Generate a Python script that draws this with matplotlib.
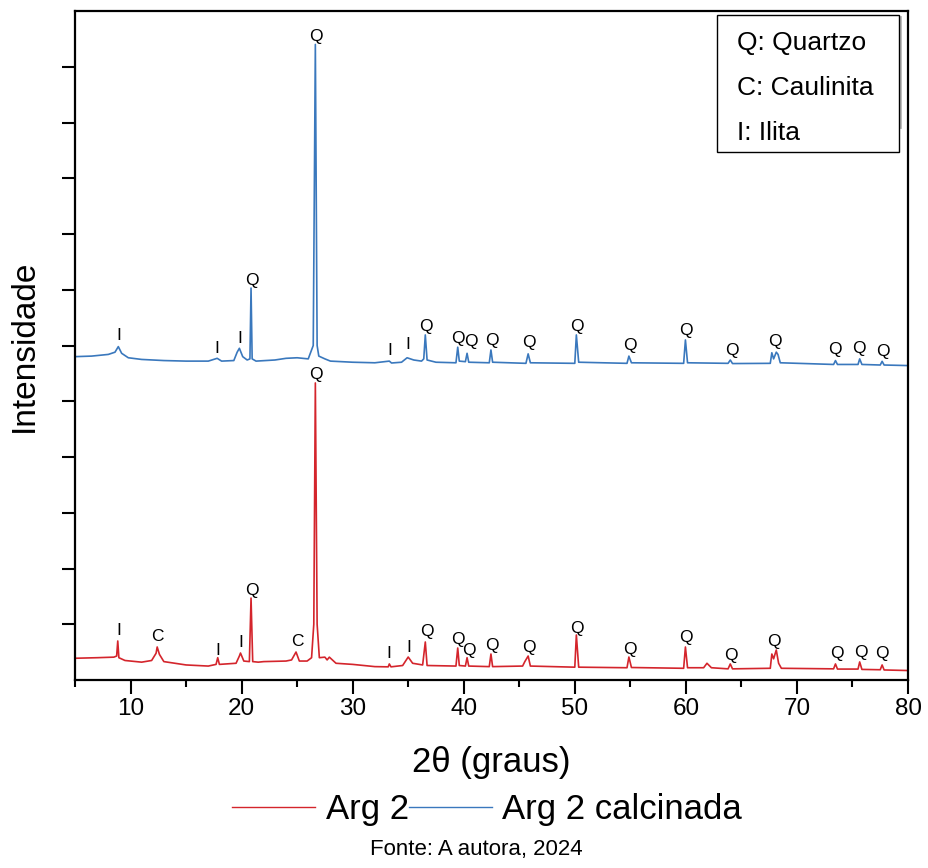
import matplotlib
matplotlib.use("Agg")
import matplotlib.pyplot as plt
from matplotlib.lines import Line2D
from matplotlib.patches import Rectangle

plt.rcParams['font.family'] = ['Liberation Sans', 'DejaVu Sans']

# ---- data (2theta in degrees, intensity in arbitrary units, as displayed) ----
arg2_tt = [5.0, 7.0, 8.5, 8.75, 8.85, 8.95, 9.5, 11.0, 11.9, 12.3, 12.4, 12.6, 13.0, 15.0, 17.0,
           17.7, 17.85, 18.0, 19.5, 19.8, 19.9, 20.2, 20.7, 20.85, 21.0, 21.5, 22.0, 24.0, 24.5,
           24.9, 25.2, 25.9, 26.3, 26.5, 26.64, 26.8, 27.0, 27.5, 27.7, 27.9, 28.5, 30.0, 32.0,
           33.2, 33.3, 33.45, 34.5, 35.0, 35.4, 36.3, 36.54, 36.7, 39.3, 39.46, 39.6, 40.15, 40.3,
           40.45, 42.3, 42.45, 42.6, 45.3, 45.5, 45.8, 46.0, 50.0, 50.14, 50.35, 54.7, 54.87, 55.1,
           59.8, 59.96, 60.15, 61.6, 61.9, 62.3, 63.8, 64.0, 64.2, 67.6, 67.74, 67.9, 68.14, 68.35,
           68.6, 73.3, 73.47, 73.65, 75.5, 75.65, 75.85, 77.5, 77.67, 77.85, 80.0]
arg2_int = [195, 200, 205, 215, 350, 200, 175, 160, 175, 240, 296, 230, 165, 135, 125,
            140, 200, 140, 150, 215, 242, 170, 165, 735, 165, 160, 165, 170, 180,
            251, 170, 170, 200, 500, 2664, 500, 200, 205, 180, 205, 150, 140, 120,
            118, 144, 118, 130, 206, 150, 135, 341, 130, 125, 287, 130, 125, 200,
            125, 120, 233, 120, 125, 165, 215, 125, 115, 404, 115, 110, 206, 112,
            105, 296, 110, 110, 150, 110, 100, 144, 100, 105, 233, 190, 269, 150,
            105, 100, 144, 98, 98, 162, 95, 92, 135, 90, 85]

calc_tt = [5.0, 6.5, 8.0, 8.6, 8.9, 9.2, 9.8, 11.0, 13.0, 15.0, 17.0, 17.8, 18.2, 19.3, 19.6,
           19.8, 20.1, 20.5, 20.75, 20.85, 20.95, 21.3, 23.0, 24.0, 25.0, 26.0, 26.45, 26.64,
           26.8, 26.95, 27.5, 28.0, 30.0, 32.0, 33.3, 33.5, 34.4, 34.9, 35.5, 36.2, 36.4, 36.54,
           36.7, 37.5, 39.3, 39.46, 39.6, 40.15, 40.3, 40.45, 42.3, 42.45, 42.6, 45.6, 45.8, 46.0,
           50.0, 50.14, 50.35, 54.7, 54.87, 55.1, 59.8, 59.96, 60.15, 63.8, 64.0, 64.2, 67.6,
           67.74, 67.9, 68.14, 68.3, 68.5, 73.3, 73.47, 73.65, 75.5, 75.65, 75.85, 77.5, 77.67,
           77.85, 80.0]
calc_int = [2900, 2905, 2920, 2940, 2990, 2930, 2890, 2875, 2865, 2860, 2860, 2885, 2860, 2865, 2940,
            2975, 2900, 2870, 2880, 3515, 2880, 2860, 2870, 2885, 2890, 2880, 3000, 5700,
            3000, 2905, 2880, 2860, 2850, 2845, 2860, 2843, 2850, 2890, 2870, 2860, 2880, 3095,
            2870, 2850, 2845, 2985, 2860, 2855, 2930, 2850, 2845, 2960, 2850, 2840, 2925, 2845,
            2840, 3095, 2850, 2840, 2905, 2845, 2840, 3050, 2845, 2840, 2870, 2838, 2840,
            2935, 2880, 2940, 2920, 2845, 2830, 2865, 2830, 2830, 2880, 2830, 2825, 2858,
            2825, 2820]

# phase labels: text, 2theta, intensity
arg2_lbl = ['I', 'C', 'I', 'I', 'Q', 'C', 'Q', 'I', 'I', 'Q', 'Q', 'Q', 'Q', 'Q', 'Q', 'Q',
            'Q', 'Q', 'Q', 'Q', 'Q', 'Q']
arg2_lbl_tt = [8.95, 12.45, 17.9, 19.95, 20.9, 25.0, 26.7, 33.27, 35.07, 36.7, 39.5, 40.47,
               42.54, 45.87, 50.2, 54.97, 60.0, 64.06, 67.93, 73.6, 75.77, 77.66]
arg2_lbl_int = [448, 386, 269, 332, 807, 341, 2736, 242, 287, 431, 359, 269,
                305, 287, 466, 278, 377, 224, 341, 242, 251, 242]

calc_lbl = ['I', 'I', 'I', 'Q', 'Q', 'I', 'I', 'Q', 'Q', 'Q', 'Q', 'Q', 'Q', 'Q', 'Q', 'Q',
            'Q', 'Q', 'Q', 'Q']
calc_lbl_tt = [8.95, 17.8, 19.85, 20.9, 26.7, 33.3, 34.95, 36.6, 39.48, 40.6, 42.54, 45.87,
               50.2, 54.97, 60.0, 64.15, 68.0, 73.4, 75.6, 77.75]
calc_lbl_int = [3094, 2969, 3059, 3579, 5767, 2951, 3005, 3166, 3059, 3032, 3041, 3023,
                3166, 2996, 3139, 2951, 3032, 2960, 2969, 2942]

legend_items = ['Q: Quartzo', 'C: Caulinita', 'I: Ilita']
series_names = ['Arg 2', 'Arg 2 calcinada']

red = '#d4252c'
blue = '#3a78bd'

fig = plt.figure(figsize=(9.29, 8.68), dpi=100)
ax = fig.add_axes([75 / 929, 1 - 680 / 868, 833 / 929, 669 / 868])

ax.plot(arg2_tt, arg2_int, color=red, lw=1.2)
ax.plot(calc_tt, calc_int, color=blue, lw=1.2)

for s, x, y in zip(arg2_lbl, arg2_lbl_tt, arg2_lbl_int):
    ax.text(x, y, s, ha='center', va='center', fontsize=12.5)
for s, x, y in zip(calc_lbl, calc_lbl_tt, calc_lbl_int):
    ax.text(x, y, s, ha='center', va='center', fontsize=12.5)

ax.set_xlim(5, 80)
ax.set_ylim(0, 6000)
ax.set_xticks(range(10, 81, 10))
ax.set_xticks(range(5, 81, 10), minor=True)
ax.set_yticks(range(500, 6000, 500))
ax.set_yticklabels([])
ax.tick_params(axis='x', which='major', direction='out', length=10, width=1.5, labelsize=17.5, pad=3)
ax.tick_params(axis='x', which='minor', direction='out', length=5, width=1.5)
ax.tick_params(axis='y', which='major', direction='out', length=9.5, width=1.5)
for sp in ax.spines.values():
    sp.set_linewidth(1.6)

ax.set_xlabel('2θ (graus)', fontsize=25, labelpad=19)
ax.set_ylabel('Intensidade', fontsize=24, labelpad=12)

# inset key box
ax.add_patch(Rectangle((0.7707, 0.789), 0.2185, 0.205, transform=ax.transAxes,
                       facecolor='white', edgecolor='black', lw=1.0, zorder=5))
ax.plot([0.990, 0.990], [0.827, 0.991], transform=ax.transAxes, color='#b5b5b5', lw=2, zorder=4)
for t, yy in zip(legend_items, [0.952, 0.885, 0.818]):
    ax.text(0.7947, yy, t, transform=ax.transAxes, fontsize=19, ha='left', va='center', zorder=6)

handles = [Line2D([], [], color=red, lw=1.0), Line2D([], [], color=blue, lw=1.0)]
fig.legend(handles, series_names, loc='center', bbox_to_anchor=(487 / 929, 1 - 810 / 868),
           ncol=2, frameon=False, fontsize=25, handlelength=2.4, handletextpad=0.3,
           columnspacing=0.0)

fig.text(476 / 929, 1 - 850 / 868, 'Fonte: A autora, 2024', ha='center', va='center', fontsize=16)

fig.savefig('out.png', dpi=100)
